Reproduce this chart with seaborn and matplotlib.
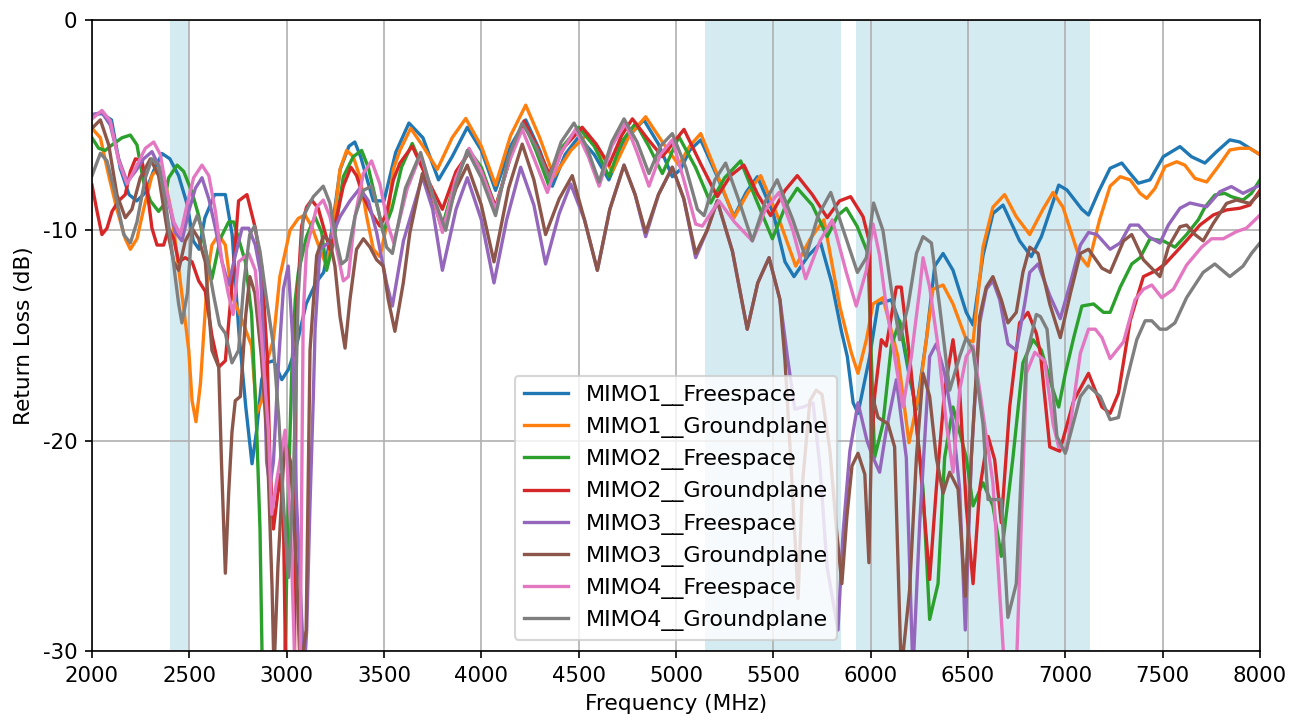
import matplotlib
matplotlib.use("Agg")
import matplotlib.pyplot as plt
import seaborn as sns
import pandas as pd

plt.rcParams['axes.unicode_minus'] = False
plt.rcParams['font.family'] = ['DejaVu Sans']

series_names = ["MIMO1__Freespace", "MIMO1__Groundplane", "MIMO2__Freespace", "MIMO2__Groundplane",
                "MIMO3__Freespace", "MIMO3__Groundplane", "MIMO4__Freespace", "MIMO4__Groundplane"]

m1_free_f = [2000,2050,2100,2145,2190,2230,2275,2315,2360,2400,2445,2490,2520,2550,2580,2630,2685,2720,2755,2790,
             2822,2846,2872,2897,2933,2975,3010,3050,3100,3150,3190,3230,3275,3320,3350,3380,3445,3500,3560,3628,
             3700,3780,3850,3928,4000,4073,4150,4228,4300,4365,4430,4500,4580,4655,4740,4835,4910,4981,5024,5070,
             5127,5210,5298,5360,5418,5500,5560,5606,5680,5743,5800,5850,5880,5910,5935,5995,6038,6106,6149,6200,
             6235,6286,6329,6372,6423,6491,6526,6577,6628,6680,6765,6825,6877,6966,7008,7085,7119,7171,7230,7290,
             7333,7375,7435,7503,7589,7648,7717,7777,7845,7896,8000]
m1_free_v = [-4.5,-4.45,-4.75,-7.05,-8.3,-8.6,-8.2,-7.2,-6.35,-6.6,-7.4,-8.8,-10.5,-10.9,-9.4,-8.3,-8.3,-10.2,-14.9,-18.4,
             -21.1,-19.5,-17.1,-16.3,-16.2,-17.1,-16.6,-15.5,-13.5,-12.5,-12.0,-10.1,-7.1,-6.0,-5.8,-6.5,-8.6,-8.6,-6.3,-4.9,
             -5.6,-7.6,-6.5,-5.1,-6.2,-8.1,-6.0,-4.75,-6.2,-7.9,-6.4,-5.55,-6.4,-7.6,-5.7,-4.75,-5.9,-7.45,-7.1,-6.2,
             -5.7,-7.4,-9.35,-8.2,-7.45,-9.2,-11.5,-12.2,-11.2,-10.6,-12.5,-14.8,-16.0,-18.2,-18.7,-16.0,-13.5,-13.3,-14.4,-17.0,
             -18.5,-15.2,-11.7,-11.1,-11.9,-13.9,-14.5,-11.2,-9.2,-8.8,-10.5,-11.25,-10.3,-7.85,-8.08,-9.0,-9.27,-8.16,-7.05,-6.8,
             -7.3,-7.76,-7.6,-6.5,-6.02,-6.5,-6.8,-6.26,-5.7,-5.8,-6.4]

m1_gnd_f = [2000,2043,2086,2128,2171,2197,2231,2265,2308,2342,2377,2411,2445,2475,2497,2514,2534,2557,2574,2595,
            2616,2651,2685,2719,2760,2820,2846,2872,2897,2932,2965,3017,3060,3094,3128,3171,3205,3240,3274,3308,
            3342,3376,3411,3445,3479,3513,3548,3582,3637,3700,3774,3850,3920,4000,4073,4150,4228,4300,4373,4460,
            4545,4610,4673,4760,4844,4930,5015,5070,5127,5210,5298,5370,5435,5530,5615,5690,5760,5841,5900,5935,
            5978,6012,6063,6140,6197,6252,6320,6372,6423,6491,6526,6577,6628,6688,6748,6817,6885,6937,6988,7065,
            7116,7176,7230,7282,7333,7384,7418,7461,7512,7572,7614,7666,7726,7785,7845,7896,7947,8000]
m1_gnd_v = [-5.15,-5.6,-7.4,-9.0,-10.4,-10.9,-10.4,-9.0,-7.4,-7.0,-7.7,-9.3,-11.8,-14.0,-15.7,-18.1,-19.1,-17.3,-14.9,-12.0,
            -10.7,-10.2,-10.7,-13.1,-14.0,-15.5,-18.7,-18.1,-16.3,-15.2,-12.2,-10.0,-9.43,-9.27,-9.8,-10.9,-11.7,-9.8,-7.1,-6.2,
            -6.5,-7.45,-9.35,-10.9,-11.25,-9.8,-7.1,-6.2,-5.15,-6.0,-7.1,-5.6,-4.68,-6.0,-7.85,-5.5,-4.05,-5.6,-7.45,-6.2,
            -5.4,-6.3,-7.2,-5.5,-4.6,-5.8,-6.9,-6.0,-5.4,-7.3,-9.4,-8.2,-7.4,-9.5,-11.7,-10.4,-9.5,-13.6,-15.8,-16.8,
            -15.2,-13.5,-13.2,-16.0,-20.1,-17.6,-12.8,-12.6,-13.5,-15.2,-15.3,-10.8,-8.9,-8.3,-9.35,-10.2,-9.0,-8.2,-8.9,-11.1,
            -11.7,-9.5,-7.9,-7.45,-7.6,-8.24,-8.48,-8.0,-6.97,-6.74,-6.9,-7.53,-7.7,-6.97,-6.18,-6.1,-6.1,-6.4]

m2_free_f = [2000,2034,2068,2103,2154,2197,2231,2265,2300,2342,2368,2394,2437,2471,2514,2548,2582,2616,2659,2702,
             2728,2753,2788,2820,2846,2863,2875,2990,3010,3027,3044,3060,3102,3145,3180,3205,3240,3291,3342,3385,
             3419,3462,3496,3540,3590,3645,3720,3800,3870,3937,4000,4073,4150,4219,4280,4348,4420,4500,4580,4656,
             4720,4793,4860,4930,5015,5100,5178,5250,5332,5410,5495,5560,5623,5700,5777,5830,5875,5930,5986,6020,
             6063,6106,6149,6217,6269,6303,6346,6380,6423,6491,6526,6577,6628,6671,6731,6782,6834,6877,6937,6966,
             7000,7043,7085,7145,7196,7230,7282,7341,7384,7435,7503,7563,7623,7683,7717,7768,7819,7853,7913,7956,
             8000]
m2_free_v = [-5.6,-6.1,-6.2,-5.94,-5.6,-5.47,-5.94,-7.7,-8.6,-9.1,-8.8,-7.5,-6.9,-7.2,-8.2,-9.3,-10.9,-12.3,-10.4,-9.6,
             -9.6,-10.4,-11.5,-14.0,-19.5,-24.2,-31,-31,-22,-16.5,-13.3,-12.0,-10.3,-9.35,-10.1,-11.9,-10.6,-7.45,-6.5,-6.2,
             -7.0,-8.7,-10.1,-9.0,-7.0,-5.87,-7.5,-9.8,-7.5,-6.2,-7.0,-8.9,-6.5,-4.9,-6.2,-7.9,-6.0,-5.1,-6.0,-7.45,
             -5.8,-4.9,-6.0,-7.3,-5.55,-7.0,-8.7,-7.5,-6.7,-8.5,-10.4,-8.9,-8.0,-8.8,-10.3,-9.3,-8.95,-9.8,-11.1,-20.8,
             -19.2,-15.5,-14.3,-17.6,-22.3,-28.5,-26.8,-20.8,-18.4,-20.8,-23.1,-22.0,-23.1,-25.5,-20.8,-16.3,-15.2,-15.7,-17.6,-18.4,
             -16.8,-15.1,-13.6,-13.5,-13.9,-13.9,-12.7,-11.6,-11.3,-10.4,-10.5,-10.8,-10.2,-9.5,-8.9,-8.32,-8.24,-8.4,-8.56,-8.24,
             -7.6]

m2_gnd_f = [2000,2026,2051,2077,2103,2137,2171,2197,2223,2257,2282,2308,2334,2368,2394,2420,2445,2479,2514,2548,
            2582,2616,2651,2685,2720,2753,2796,2839,2873,2900,2914,2932,2966,2983,2995,3040,3050,3077,3102,3128,
            3162,3197,3222,3257,3291,3330,3359,3394,3436,3479,3513,3548,3582,3645,3720,3800,3870,3937,4000,4073,
            4150,4219,4280,4348,4430,4518,4590,4656,4720,4776,4850,4930,5041,5130,5212,5280,5349,5420,5486,5560,
            5623,5700,5777,5840,5897,5961,5995,6003,6020,6055,6080,6132,6157,6200,6252,6303,6337,6380,6423,6457,
            6491,6526,6560,6603,6637,6671,6714,6765,6808,6851,6872,6920,6971,7043,7119,7188,7230,7273,7333,7401,
            7469,7512,7572,7631,7691,7760,7828,7896,7947,8000]
m2_gnd_v = [-7.85,-9.1,-10.2,-9.9,-9.1,-8.6,-8.3,-7.2,-6.6,-6.7,-8.0,-9.9,-10.7,-10.7,-9.9,-10.4,-11.5,-11.3,-11.5,-12.4,
            -12.9,-15.0,-16.5,-16.2,-12.5,-8.6,-8.3,-9.9,-11.8,-16.0,-21.0,-24.2,-21.6,-23.5,-31,-31,-14.0,-9.8,-8.9,-8.56,
            -8.95,-10.1,-10.9,-9.35,-7.9,-7.0,-7.4,-8.4,-9.2,-9.8,-9.2,-7.6,-6.8,-6.0,-7.5,-9.0,-7.2,-6.3,-7.2,-8.9,
            -6.5,-4.8,-5.9,-7.3,-6.0,-5.1,-5.9,-6.9,-5.5,-4.7,-5.6,-6.5,-5.2,-6.9,-8.4,-7.4,-6.9,-8.3,-9.3,-8.1,
            -7.4,-8.3,-9.4,-8.6,-8.4,-9.35,-10.6,-20.8,-17.9,-15.2,-15.5,-12.7,-12.7,-16.0,-20.8,-26.6,-22.3,-17.6,-15.2,-17.6,
            -23.1,-26.8,-22.3,-19.8,-20.9,-23.9,-18.4,-14.4,-13.9,-14.9,-15.85,-20.3,-20.5,-18.1,-16.8,-18.4,-18.7,-17.75,-14.3,-12.2,
            -11.9,-11.6,-11.0,-10.4,-9.75,-9.27,-9.03,-8.95,-8.8,-8.1]

m3_free_f = [2000,2051,2094,2137,2180,2223,2265,2308,2342,2385,2428,2462,2497,2531,2565,2600,2634,2668,2702,2736,
             2771,2805,2839,2865,2880,2897,2914,2932,2960,2983,3008,3030,3050,3075,3090,3103,3120,3137,3146,3171,
             3214,3240,3274,3325,3376,3420,3462,3513,3543,3600,3697,3750,3800,3870,3928,4000,4065,4130,4202,4270,
             4330,4400,4459,4530,4596,4660,4733,4790,4844,4910,4981,5040,5101,5160,5212,5290,5366,5420,5478,5534,
             5572,5610,5653,5704,5740,5776,5832,5858,5893,5935,5981,6012,6046,6080,6132,6183,6217,6252,6303,6337,
             6380,6423,6457,6486,6517,6560,6594,6628,6663,6705,6748,6791,6817,6860,6920,6974,7026,7077,7119,7162,
             7230,7282,7333,7375,7427,7486,7529,7589,7640,7726,7794,7853,7913,8000]
m3_free_v = [-4.5,-4.4,-5.0,-6.6,-7.7,-7.2,-6.6,-6.26,-6.9,-8.3,-10.1,-10.5,-9.1,-8.0,-7.5,-8.5,-9.9,-11.5,-12.6,-11.2,
             -9.9,-9.9,-10.7,-12.0,-15.0,-21.0,-22.2,-21.0,-16.0,-12.8,-11.7,-15.0,-22.7,-28.0,-31,-29.0,-23.0,-17.9,-14.7,-10.9,
             -10.6,-10.1,-9.35,-8.6,-8.0,-8.6,-10.1,-12.5,-13.6,-10.5,-7.45,-9.0,-11.9,-9.0,-7.5,-9.5,-12.5,-9.5,-7.0,-8.8,
             -11.6,-9.2,-7.8,-9.5,-11.9,-9.0,-6.9,-8.3,-10.3,-8.3,-7.0,-8.5,-11.3,-10.0,-8.6,-11.0,-14.7,-12.5,-11.3,-13.3,
             -16.0,-18.5,-18.4,-18.2,-21.3,-26.0,-29.0,-24.4,-20.5,-18.2,-20.0,-20.8,-21.5,-19.5,-17.1,-20.8,-31,-23.9,-16.0,-15.4,
             -16.8,-19.2,-22.3,-29.0,-20.8,-14.4,-12.8,-12.4,-13.3,-15.4,-15.7,-13.5,-12.0,-11.6,-13.1,-14.2,-12.5,-10.7,-10.1,-10.2,
             -10.9,-10.6,-9.75,-9.75,-10.3,-10.6,-9.75,-8.95,-8.7,-8.88,-8.16,-7.92,-8.24,-7.85]

m3_gnd_f = [2000,2043,2086,2128,2171,2205,2248,2300,2342,2385,2420,2445,2479,2514,2548,2582,2616,2651,2665,2685,
            2702,2719,2736,2762,2790,2811,2837,2870,2900,2925,2935,2955,2990,3020,3050,3070,3100,3120,3154,3188,
            3222,3248,3274,3300,3325,3359,3394,3428,3462,3496,3522,3556,3599,3633,3697,3750,3800,3870,3928,4000,
            4065,4140,4210,4270,4330,4400,4467,4530,4596,4660,4733,4790,4844,4910,4981,5040,5101,5160,5212,5290,
            5366,5420,5478,5534,5560,5601,5627,5650,5688,5720,5750,5791,5826,5852,5878,5904,5935,5970,5991,6009,
            6038,6089,6123,6157,6200,6235,6269,6303,6337,6372,6406,6449,6486,6517,6560,6594,6628,6671,6705,6748,
            6782,6817,6860,6920,6974,7026,7077,7119,7188,7230,7299,7341,7401,7486,7529,7589,7623,7666,7708,7760,
            7828,7879,7947,8000]
m3_gnd_v = [-5.15,-4.75,-5.94,-8.3,-9.4,-9.0,-7.5,-6.6,-7.4,-9.9,-11.5,-11.9,-10.5,-9.9,-10.4,-11.5,-15.7,-16.5,-21.0,-26.3,
            -22.5,-19.6,-18.1,-17.9,-14.0,-12.2,-13.0,-16.0,-20.0,-27.0,-31,-26.0,-20.0,-21.0,-26.0,-31,-29.0,-15.7,-11.2,-10.3,
            -10.5,-11.7,-14.1,-15.6,-13.3,-10.9,-10.4,-10.8,-11.4,-11.7,-13.3,-14.8,-12.5,-10.1,-7.3,-8.5,-10.0,-8.0,-6.9,-8.8,
            -11.5,-8.0,-5.9,-7.6,-10.2,-8.5,-7.4,-9.5,-11.9,-9.0,-6.9,-8.3,-10.1,-8.3,-7.0,-8.5,-11.1,-10.0,-8.6,-11.0,
            -14.7,-12.5,-11.3,-13.3,-16.2,-22.8,-27.5,-22.0,-18.1,-17.6,-17.8,-20.5,-24.4,-26.8,-23.6,-21.2,-20.6,-21.6,-25.8,-17.9,
            -18.9,-19.2,-20.3,-31,-27.1,-20.8,-16.8,-17.9,-20.8,-22.5,-21.5,-22.3,-27.4,-20.8,-14.1,-12.7,-12.2,-13.3,-14.4,-13.9,
            -12.0,-10.8,-11.1,-13.5,-15.1,-13.0,-11.1,-10.9,-11.8,-12.0,-10.5,-10.2,-11.4,-12.2,-10.8,-9.83,-9.75,-10.2,-10.5,-9.67,
            -8.72,-8.56,-8.72,-8.24]

m4_free_f = [2000,2051,2094,2137,2180,2223,2274,2317,2351,2385,2420,2454,2488,2522,2565,2600,2634,2668,2702,2725,
             2753,2805,2839,2870,2906,2923,2949,2992,3020,3043,3069,3085,3102,3154,3188,3222,3257,3291,3317,3351,
             3394,3436,3479,3522,3550,3620,3688,3740,3800,3870,3937,4000,4073,4140,4210,4280,4339,4410,4484,4550,
             4605,4670,4741,4800,4861,4920,4981,5040,5101,5135,5221,5300,5392,5460,5529,5600,5666,5740,5803,5875,
             5926,5978,6012,6046,6080,6123,6166,6209,6252,6269,6303,6346,6389,6423,6457,6491,6526,6560,6628,6688,
             6748,6800,6843,6894,6937,6966,7008,7077,7119,7154,7188,7230,7299,7358,7401,7444,7495,7555,7623,7700,
             7751,7811,7879,7930,8000]
m4_free_v = [-4.7,-4.3,-4.8,-6.7,-7.8,-7.05,-6.1,-5.8,-6.4,-8.2,-9.6,-10.2,-8.8,-7.5,-6.9,-7.4,-9.1,-11.5,-13.1,-14.0,
             -11.5,-11.1,-11.9,-15.0,-19.5,-23.5,-21.9,-19.5,-24.0,-31,-31,-14.0,-10.9,-8.9,-8.56,-9.35,-10.9,-12.4,-12.2,-9.35,
             -7.3,-6.7,-7.8,-9.8,-10.6,-8.0,-6.4,-8.0,-10.1,-7.5,-6.1,-7.2,-9.0,-6.8,-5.2,-6.8,-8.2,-6.3,-5.2,-6.5,
             -7.9,-6.0,-4.9,-6.3,-7.9,-6.4,-5.7,-7.6,-9.7,-9.8,-8.6,-9.6,-10.5,-9.0,-8.2,-10.0,-12.3,-10.5,-9.5,-12.0,
             -13.6,-11.9,-9.7,-11.2,-13.6,-16.0,-18.4,-16.0,-12.8,-11.3,-12.7,-15.5,-19.2,-21.5,-17.6,-16.0,-15.5,-17.6,-22.0,-31,
             -31,-16.8,-15.8,-16.2,-19.2,-20.3,-20.4,-15.85,-14.7,-14.7,-15.1,-16.1,-15.3,-13.3,-12.8,-12.6,-13.2,-12.8,-11.65,-10.8,
             -10.4,-10.4,-10.06,-9.9,-9.27]

m4_gnd_f = [2000,2043,2077,2120,2163,2197,2231,2274,2308,2342,2377,2411,2445,2462,2490,2514,2540,2565,2600,2625,
            2655,2685,2719,2753,2780,2810,2835,2863,2897,2931,2960,2990,3010,3034,3060,3085,3137,3188,3222,3257,
            3282,3308,3351,3394,3436,3470,3513,3543,3610,3688,3750,3817,3870,3928,4000,4073,4140,4210,4280,4348,
            4410,4476,4540,4605,4670,4733,4800,4861,4920,4981,5050,5110,5144,5200,5255,5320,5392,5460,5520,5600,
            5666,5730,5795,5860,5932,5978,6015,6063,6106,6149,6192,6235,6269,6312,6354,6406,6457,6491,6526,6577,
            6603,6671,6705,6748,6800,6851,6872,6906,6957,7000,7077,7119,7179,7230,7273,7316,7367,7410,7444,7486,
            7520,7563,7623,7708,7768,7845,7913,7956,8000]
m4_gnd_v = [-7.4,-6.34,-6.7,-8.3,-10.2,-10.6,-9.6,-7.5,-6.6,-6.9,-8.6,-11.0,-13.5,-14.4,-13.0,-9.9,-9.3,-9.9,-11.8,-13.1,
            -14.5,-14.9,-16.3,-15.7,-12.5,-10.2,-9.8,-11.0,-13.3,-15.4,-19.0,-24.0,-26.5,-22.0,-13.0,-9.35,-8.4,-7.9,-8.7,-10.6,
            -11.6,-11.4,-9.35,-8.1,-7.9,-9.0,-10.8,-11.1,-8.0,-6.3,-8.3,-10.0,-7.8,-6.2,-7.5,-9.3,-6.5,-4.9,-6.0,-7.5,
            -5.8,-4.9,-6.0,-7.7,-5.8,-4.7,-5.8,-7.3,-6.0,-5.4,-7.0,-9.0,-9.3,-7.6,-6.8,-8.5,-10.5,-8.6,-7.6,-9.5,
            -11.3,-9.3,-8.2,-10.0,-12.0,-11.3,-8.7,-10.0,-12.8,-15.2,-13.6,-11.1,-10.3,-10.6,-13.6,-17.6,-16.0,-15.1,-15.7,-19.2,
            -22.8,-22.8,-28.4,-26.8,-16.0,-14.0,-14.1,-14.7,-19.8,-20.6,-17.9,-17.4,-17.9,-19.0,-18.9,-17.1,-15.2,-14.3,-14.3,-14.7,
            -14.7,-14.4,-13.2,-12.0,-11.6,-12.2,-11.7,-11.1,-10.6]

bands = [(2400, 2500), (5150, 5850), (5925, 7125)]
x_ticks = list(range(2000, 8001, 500))
y_ticks = [0, -10, -20, -30]

all_f = [m1_free_f, m1_gnd_f, m2_free_f, m2_gnd_f, m3_free_f, m3_gnd_f, m4_free_f, m4_gnd_f]
all_v = [m1_free_v, m1_gnd_v, m2_free_v, m2_gnd_v, m3_free_v, m3_gnd_v, m4_free_v, m4_gnd_v]

frames = []
for name, f, v in zip(series_names, all_f, all_v):
    assert len(f) == len(v), (name, len(f), len(v))
    frames.append(pd.DataFrame({"Frequency": f, "RL": v, "Series": name}))
df = pd.concat(frames, ignore_index=True)

fig = plt.figure(figsize=(1301 / 150, 722 / 150), dpi=150)
ax = fig.add_axes([92 / 1301, 1 - 651 / 722, (1260 - 92) / 1301, (651 - 20) / 722])

for lo, hi in bands:
    ax.axvspan(lo, hi, color="lightblue", alpha=0.5, lw=0, zorder=0.5)

palette = sns.color_palette("tab10", 8)
sns.lineplot(data=df, x="Frequency", y="RL", hue="Series", hue_order=series_names,
             palette=palette, estimator=None, sort=False, linewidth=1.6, ax=ax)

ax.set_xlim(2000, 8000)
ax.set_ylim(-30, 0)
ax.set_xticks(x_ticks)
ax.set_yticks(y_ticks)
ax.tick_params(labelsize=10.2)
ax.grid(True, color="#b0b0b0", linewidth=0.8)
ax.set_xlabel("Frequency (MHz)", fontsize=10.4)
ax.set_ylabel("Return Loss (dB)", fontsize=10.4)
sns.move_legend(ax, "lower center", title=None, frameon=True, fontsize=10.7)

fig.savefig("out.png", dpi=150)
